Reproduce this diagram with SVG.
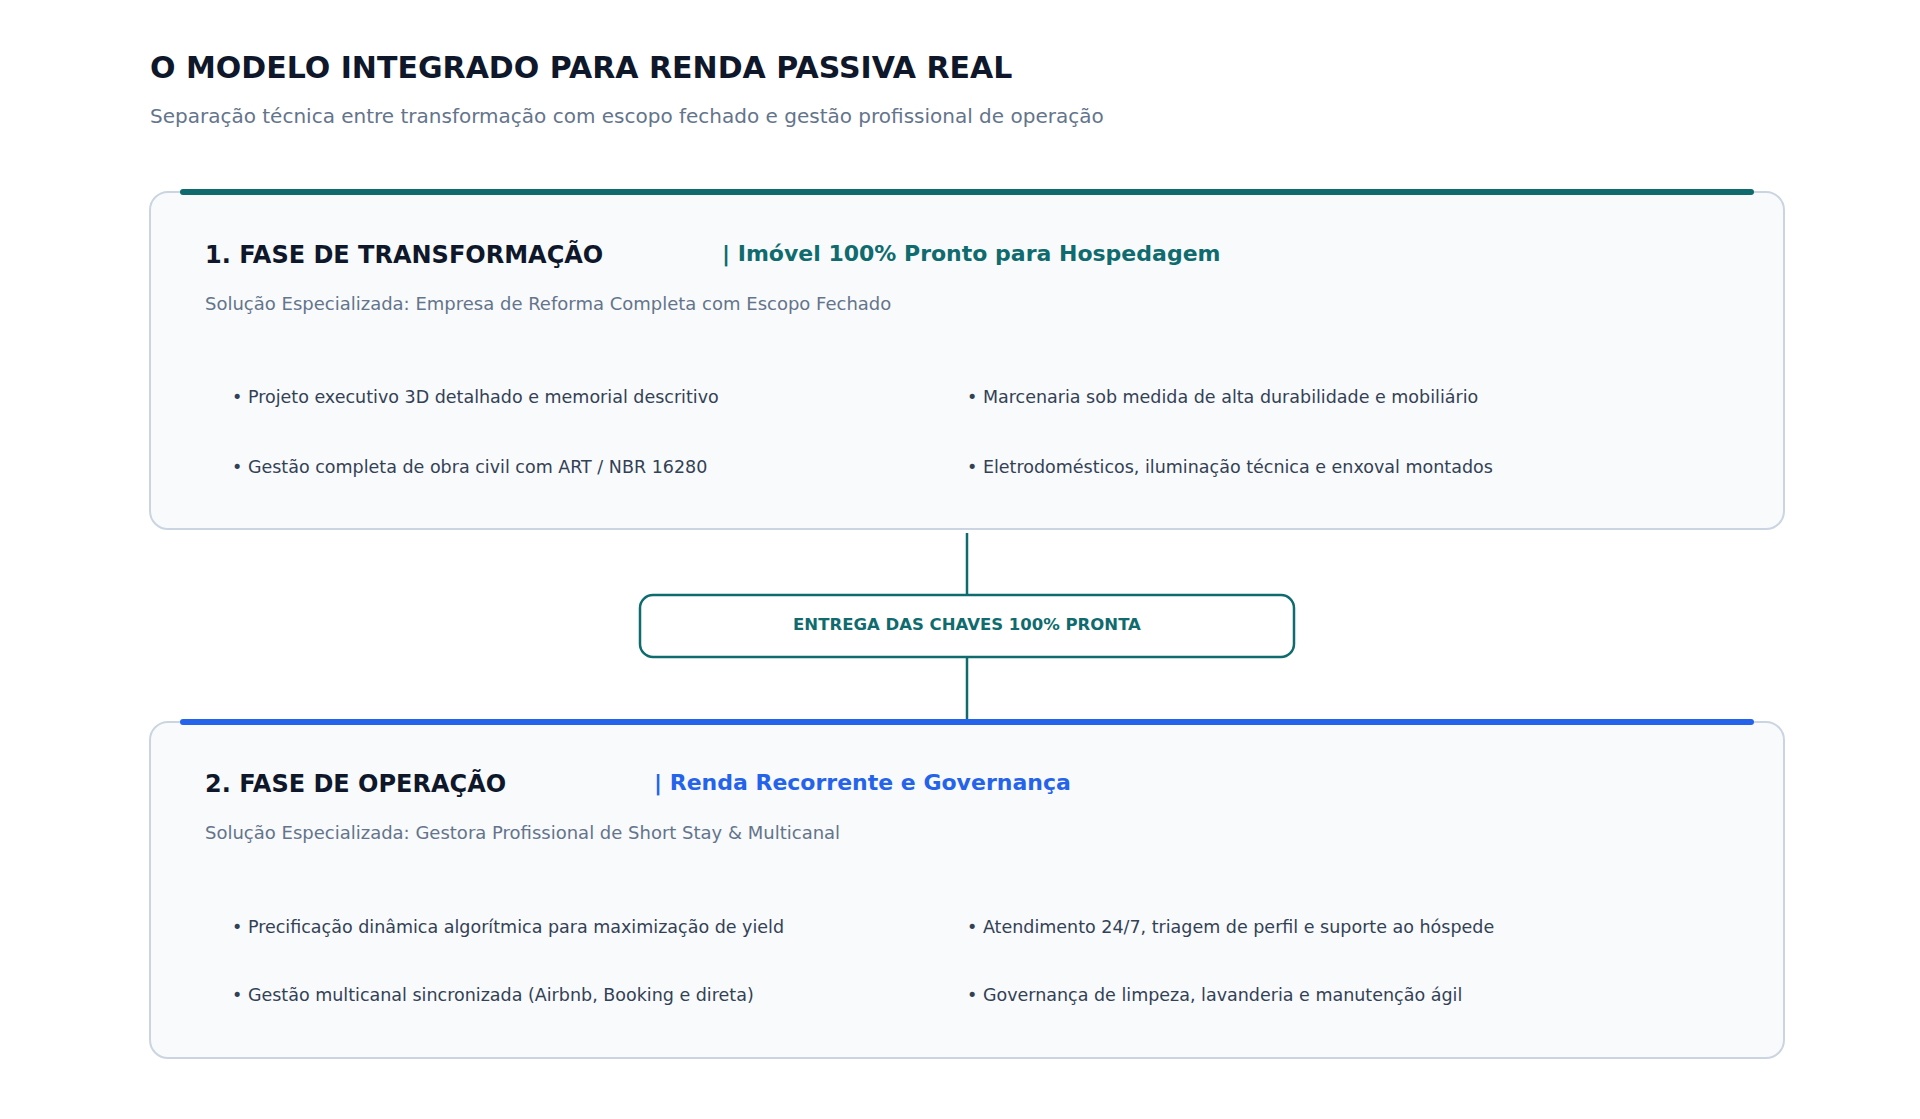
<svg xmlns="http://www.w3.org/2000/svg" width="1920" height="1119" viewBox="0 0 1920 1119">
<style>
text{font-family:"DejaVu Sans","Liberation Sans",sans-serif}
.card{fill:#f8fafc;stroke:#cbd5e1;stroke-width:2}
.h{font-size:24px;font-weight:bold;fill:#0f172a}
.tag{font-size:22px;font-weight:bold}
.sub{font-size:18px;fill:#64748b}
.b{font-size:17.5px;fill:#334155}
.conn{stroke:#0f6b6e;stroke-width:2.5;fill:none}
</style>
<rect width="1920" height="1119" fill="#ffffff"/>
<text x="150" y="78" font-size="30" font-weight="bold" fill="#0f172a">O MODELO INTEGRADO PARA RENDA PASSIVA REAL</text>
<text x="150" y="123" font-size="20" fill="#64748b">Separação técnica entre transformação com escopo fechado e gestão profissional de operação</text>
<g id="connectors">
<line class="conn" x1="967" y1="533" x2="967" y2="595"/>
<line class="conn" x1="967" y1="657" x2="967" y2="722"/>
</g>
<g id="fase1">
<rect class="card" x="150" y="192" width="1634" height="337" rx="18"/>
<line x1="183" y1="192" x2="1751" y2="192" stroke="#0f6b6e" stroke-width="6" stroke-linecap="round"/>
<text class="h" x="205" y="263">1. FASE DE TRANSFORMAÇÃO</text>
<text class="tag" x="722" y="261" fill="#0f6b6e">|  Imóvel 100% Pronto para Hospedagem</text>
<text class="sub" x="205" y="310">Solução Especializada: Empresa de Reforma Completa com Escopo Fechado</text>
<text class="b" x="232" y="403">• Projeto executivo 3D detalhado e memorial descritivo</text>
<text class="b" x="232" y="473">• Gestão completa de obra civil com ART / NBR 16280</text>
<text class="b" x="967" y="403">• Marcenaria sob medida de alta durabilidade e mobiliário</text>
<text class="b" x="967" y="473">• Eletrodomésticos, iluminação técnica e enxoval montados</text>
</g>
<g id="entrega">
<rect x="640" y="595" width="654" height="62" rx="13" fill="#ffffff" stroke="#0f6b6e" stroke-width="2.5"/>
<text x="967" y="630" text-anchor="middle" font-size="16.5" font-weight="bold" fill="#0f6b6e">ENTREGA DAS CHAVES 100% PRONTA</text>
</g>
<g id="fase2">
<rect class="card" x="150" y="722" width="1634" height="336" rx="18"/>
<line x1="183" y1="722" x2="1751" y2="722" stroke="#2563eb" stroke-width="6" stroke-linecap="round"/>
<text class="h" x="205" y="792">2. FASE DE OPERAÇÃO</text>
<text class="tag" x="654" y="790" fill="#2563eb">|  Renda Recorrente e Governança</text>
<text class="sub" x="205" y="839">Solução Especializada: Gestora Profissional de Short Stay &amp; Multicanal</text>
<text class="b" x="232" y="933">• Precificação dinâmica algorítmica para maximização de yield</text>
<text class="b" x="232" y="1001">• Gestão multicanal sincronizada (Airbnb, Booking e direta)</text>
<text class="b" x="967" y="933">• Atendimento 24/7, triagem de perfil e suporte ao hóspede</text>
<text class="b" x="967" y="1001">• Governança de limpeza, lavanderia e manutenção ágil</text>
</g>
</svg>
